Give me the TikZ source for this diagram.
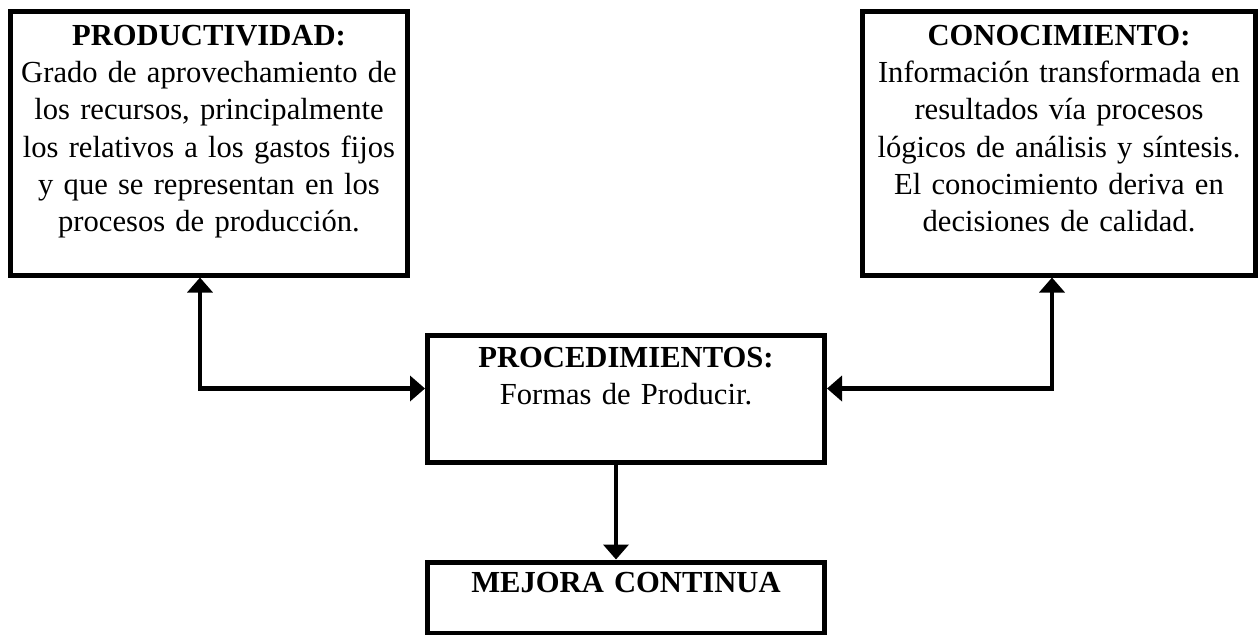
\documentclass[tikz,border=0pt]{standalone}
\usepackage{fontspec}
\setmainfont{Liberation Serif}
\usetikzlibrary{arrows.meta,positioning}

\begin{document}
\begin{tikzpicture}
\tikzstyle{box}=[rectangle,draw=black,line width=2.5pt,
inner sep=0pt,align=center,
font=\fontsize{15.3}{18.6}\selectfont]
\tikzstyle{arr}=[line width=2.25pt,
arrows={-Triangle[length=7.5pt,width=12.5pt]}]
\useasboundingbox (0pt,0pt) rectangle (629pt,-317pt);

\node[box,anchor=north,text width=198.5pt,text height=17.25pt,text depth=114.75pt]
  at (104.5pt,-4.25pt) (prod) {\textbf{PRODUCTIVIDAD:}\\
  Grado de aprovechamiento de\\ los recursos, principalmente\\
  los relativos a los gastos fijos\\ y que se representan en los\\
  procesos de producción.};
\node[box,anchor=north,text width=196.5pt,text height=17.25pt,text depth=114.75pt]
  at (529.5pt,-4.25pt) (conoc) {\textbf{CONOCIMIENTO:}\\
  Información transformada en\\ resultados vía procesos\\
  lógicos de análisis y síntesis.\\ El conocimiento deriva en\\
  decisiones de calidad.};
\node[box,anchor=north,text width=198.5pt,text height=16.25pt,text depth=47.25pt]
  at (313pt,-166.25pt) (proc) {\textbf{PROCEDIMIENTOS:}\\ Formas de Producir.};
\node[box,anchor=north,text width=198.5pt,text height=15.25pt,text depth=20.25pt]
  at (313pt,-279.75pt) (mejora) {\textbf{MEJORA CONTINUA}};

\draw[arr,{Triangle[length=7.5pt,width=12.5pt]}-{Triangle[length=7.5pt,width=12.5pt]}]
  ([xshift=-4.5pt]prod.south) |- ([yshift=5pt]proc.west);
\draw[arr,{Triangle[length=7.5pt,width=12.5pt]}-{Triangle[length=7.5pt,width=12.5pt]}]
  ([xshift=-3.5pt]conoc.south) |- ([yshift=5pt]proc.east);
\draw[arr] ([xshift=-5pt]proc.south) -- ([xshift=-5pt]mejora.north);

\end{tikzpicture}
\end{document}
